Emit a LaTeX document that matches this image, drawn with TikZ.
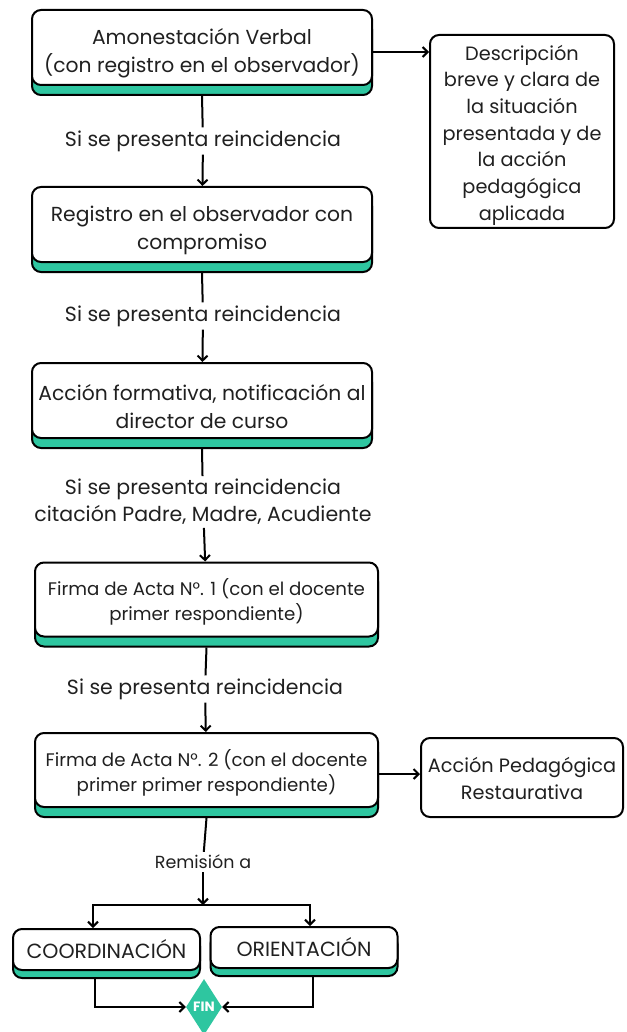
\documentclass[tikz,border=0pt]{standalone}
\usepackage{fontspec}
\setmainfont{Poppins}
\usepackage{tikz}
\newcommand{\lVerbal}{Amonestación Verbal\\(con registro en el observador)}
\newcommand{\lRegistro}{Registro en el observador con\\compromiso}
\newcommand{\lFormativa}{Acción formativa, notificación al\\director de curso}
\newcommand{\lActaOne}{Firma de Acta N°. 1 (con el docente\\primer respondiente)}
\newcommand{\lActaTwo}{Firma de Acta N°. 2 (con el docente\\primer primer respondiente)}
\newcommand{\lDescripcion}{Descripción\\breve y clara de\\la situación\\presentada y de\\la acción\\pedagógica\\aplicada}
\newcommand{\lRestaurativa}{Acción Pedagógica\\Restaurativa}
\newcommand{\lReincidencia}{Si se presenta reincidencia}
\newcommand{\lCitacion}{Si se presenta reincidencia\\citación Padre, Madre, Acudiente}
\usetikzlibrary{arrows.meta, shadows, shapes.geometric, calc, positioning}
\definecolor{themeMint}{RGB}{46, 198, 160}
\definecolor{themeInk}{RGB}{32, 32, 32}

\begin{document}
\begin{tikzpicture} [
        x=1pt, y=-1pt,
        every node/.style={text=themeInk, font=\fontsize{20.3}{28}\selectfont},
        box/.style={draw=black, line width=2pt, rounded corners=9pt, fill=white, align=center, inner sep=2pt},
        band/.style={general shadow={draw=black, line width=2pt, fill=themeMint, shadow yshift=-#1}},
        step box/.style={box, band=10pt, minimum width=340pt, minimum height=75pt},
        acta/.style={minimum width=343pt, minimum height=74pt},
        small box/.style={box, band=8pt, minimum width=187pt, minimum height=41pt, font=\fontsize{20.5}{24}\selectfont},
        step text/.style={label={[align=center, yshift=-6pt]center:#1}},
        acta text/.style={label={[align=center, yshift=-2.5pt, font=\fontsize{18.2}{25}\selectfont]center:#1}},
        side text/.style 2 args={label={[align=center, yshift=-#1, font=\fontsize{19.3}{26.7}\selectfont]center:#2}},
        step label/.style={align=center, inner sep=3pt, font=\fontsize{20.5}{27}\selectfont},
        line/.style={line width=2pt},
        arrow/.style={line, -{Straight Barb[length=5pt, width=10pt]}},
        fin/.style={diamond, fill=themeMint, minimum width=36pt, minimum height=56pt, inner sep=0pt, text=white, font=\bfseries\fontsize{13.5}{13.5}\selectfont}
    ]

    \useasboundingbox (0,0) rectangle (626,1032);

    % main column
    \node[step box, step text=\lVerbal] (verbal) at (202, 47.5) {};
    \node[step box, step text=\lRegistro] (registro) at (202, 224.5) {};
    \node[step box, step text=\lFormativa] (formativa) at (202, 400.5) {};
    \node[step box, acta, acta text=\lActaOne] (acta one) at (206.5, 599.5) {};
    \node[step box, acta, acta text=\lActaTwo] (acta two) at (206.5, 770) {};

    % side boxes
    \node[box, minimum width=184pt, minimum height=193pt, side text={3.5pt}{\lDescripcion}] (descripcion) at (522, 131.5) {};
    \node[box, minimum width=202pt, minimum height=79pt, side text={1pt}{\lRestaurativa}] (restaurativa) at (522, 777.5) {};

    \node[small box] (coordinacion) at (106.5, 949.5) {COORDINACIÓN};
    \node[small box] (orientacion) at (304, 947.5) {ORIENTACIÓN};
    \node[fin] (fin) at (204, 1007) {FIN};

    % labels on the connectors
    \node[step label] (reinc one) at (203, 141) {\lReincidencia};
    \node[step label] (reinc two) at (203, 316) {\lReincidencia};
    \node[step label] (citacion) at (203, 502) {\lCitacion};
    \node[step label] (reinc three) at (205, 689) {\lReincidencia};
    \node[step label, font=\fontsize{17.5}{24}\selectfont] (remision) at (203, 862) {Remisión a};
    \coordinate (split) at (203, 905);

    \draw[line] ([yshift=-10pt]verbal.south) -- (reinc one);
    \draw[arrow] (reinc one) -- (registro);
    \draw[line] ([yshift=-10pt]registro.south) -- (reinc two);
    \draw[arrow] (reinc two) -- (formativa);
    \draw[line] ([yshift=-10pt]formativa.south) -- (citacion);
    \draw[arrow] (citacion) -- (acta one);
    \draw[line] ([yshift=-10pt]acta one.south) -- (reinc three);
    \draw[arrow] (reinc three) -- (acta two);
    \draw[line] ([yshift=-10pt]acta two.south) -- (remision);
    \draw[arrow] (remision) -- (split);

    \draw[arrow] ([yshift=-4.5pt]verbal.east) -- ([yshift=-4.5pt]verbal.east -| descripcion.west);
    \draw[arrow] ([yshift=-4pt]acta two.east) -- ([yshift=-4pt]acta two.east -| restaurativa.west);

    \draw[arrow] (split) -| ([xshift=-13.5pt]coordinacion.north);
    \draw[arrow] (split) -| ([xshift=6pt]orientacion.north);
    \draw[arrow] ([xshift=-11.5pt, yshift=-8pt]coordinacion.south) |- (fin.west);
    \draw[arrow] ([xshift=9pt, yshift=-8pt]orientacion.south) |- (fin.east);

\end{tikzpicture}
\end{document}
